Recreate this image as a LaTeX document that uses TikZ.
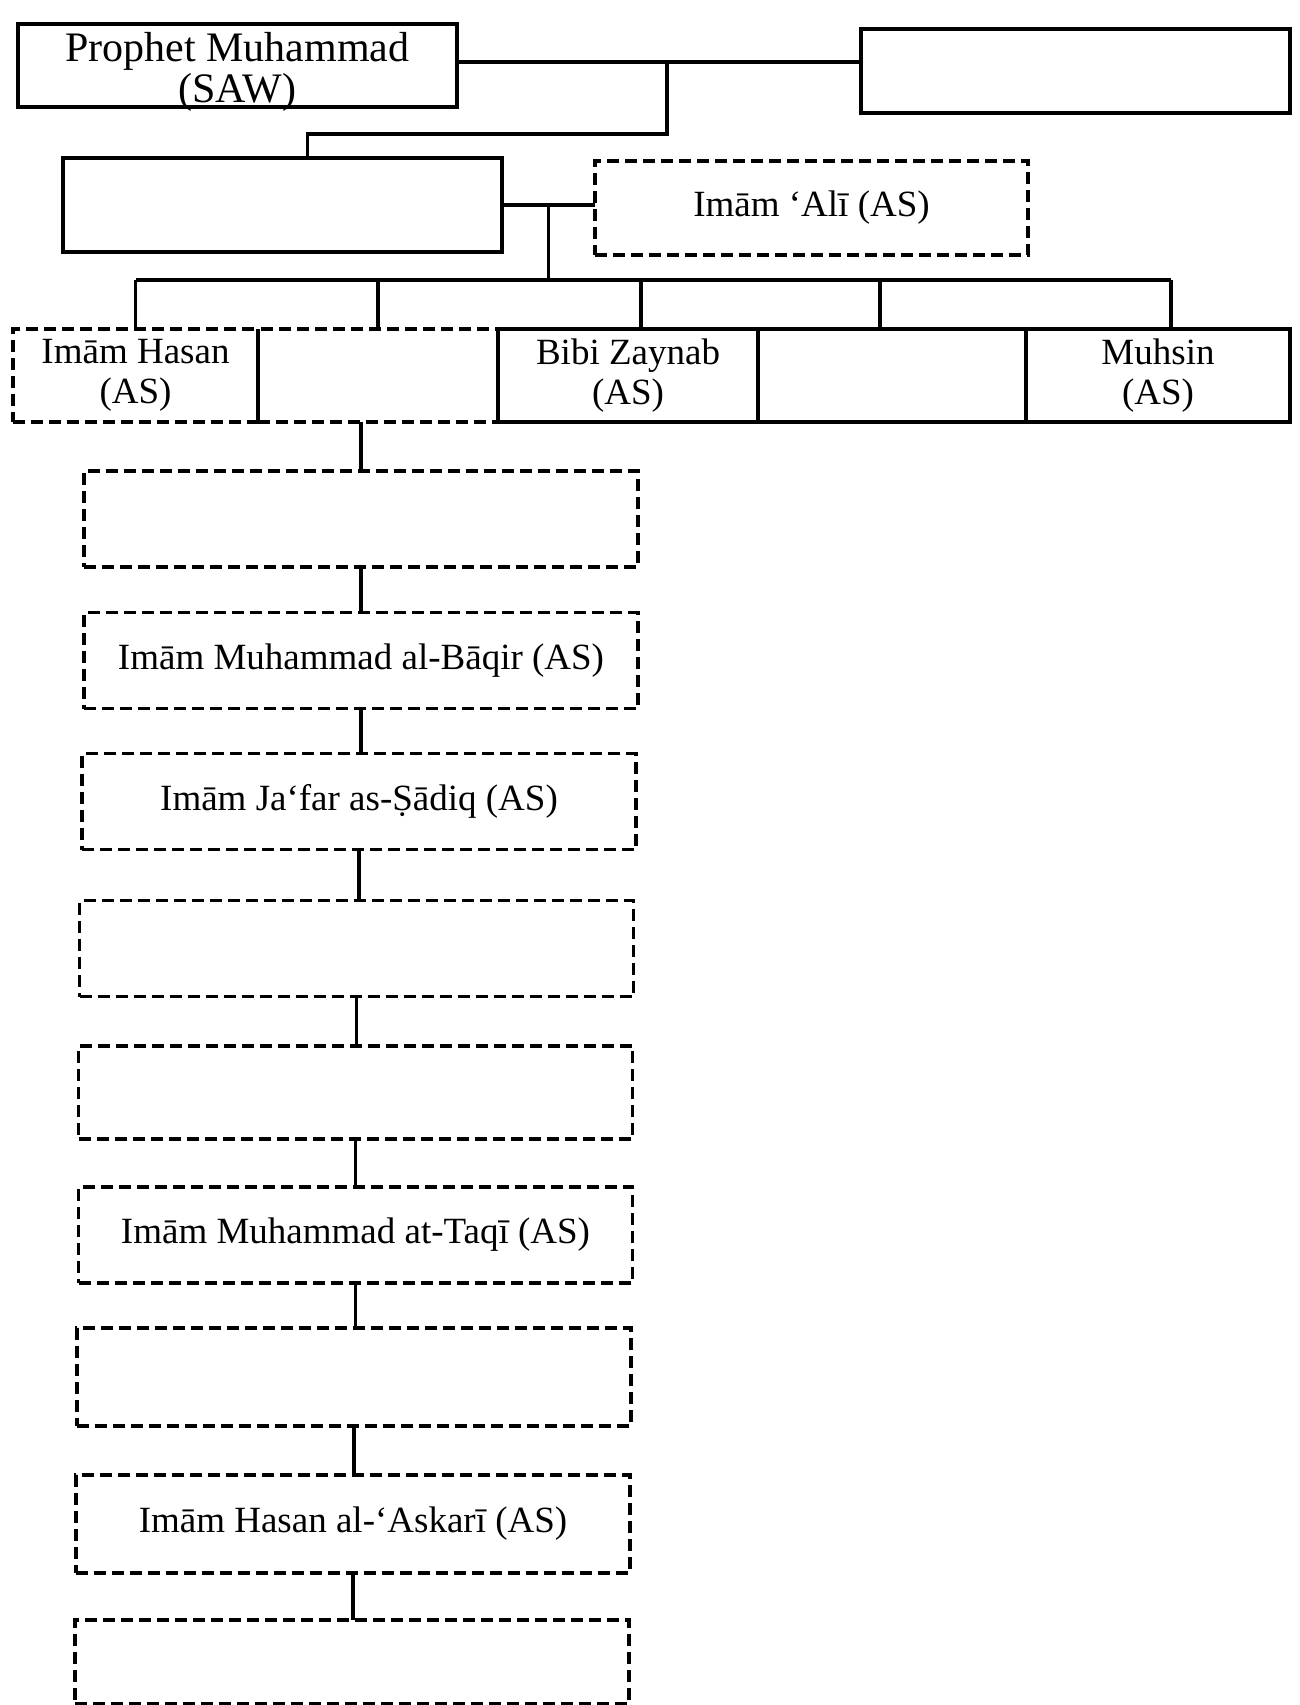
\documentclass[tikz,border=0pt]{standalone}
\usepackage{fontspec}
\setmainfont{Liberation Serif}
\usetikzlibrary{calc}
\begin{document}
\begin{tikzpicture}[x=1pt,y=-1pt,
  every node/.style={inner sep=0pt, outer sep=0pt, font=\fontsize{37}{40}\selectfont, align=center},
  solidbox/.style={draw, line width=3.1pt},
  dashbox/.style={draw, line width=3.1pt, dash pattern=on 12pt off 6pt},
  link/.style={line width=3.1pt},
  chain/.style={dashbox, minimum width=554pt, minimum height=96pt}]
\useasboundingbox (0,0) rectangle (1299,1705);
\fill[white] (0,0) rectangle (1299,1705);

% top generation
\node[solidbox, minimum width=439pt, minimum height=83pt] (prophet) at (237.5,65.5) {};
\node[font=\fontsize{42}{41}\selectfont, yshift=-6pt] (prophetlbl) at (prophet.center) {Prophet Muhammad\\(SAW)};
\node[solidbox, minimum width=429pt, minimum height=84pt] (wife) at (1075.5,71) {};
\node[solidbox, minimum width=439pt, minimum height=94pt] (fatima) at (282.5,205) {};
\node[dashbox, minimum width=433pt, minimum height=94pt] (ali) at (811.5,208) {Imām ‘Alī (AS)};

% children
\node[dashbox, minimum width=245pt, minimum height=93pt] (hasan) at (135.5,375.5) {Imām Hasan\\(AS)};
\node[dashbox, minimum width=240pt, minimum height=93pt] (husayn) at (378,375.5) {};
\node[solidbox, minimum width=260pt, minimum height=93pt] (zaynab) at (628,375.5) {Bibi Zaynab\\(AS)};
\node[solidbox, minimum width=268pt, minimum height=93pt] (kulthum) at (892,375.5) {};
\node[solidbox, minimum width=264pt, minimum height=93pt] (muhsin) at (1158,375.5) {Muhsin\\(AS)};
\draw[link] (hasan.north east) -- (hasan.south east);

% chain of imams
\node[chain] (c1) at (361,519) {};
\node[chain] (c2) at (361,660.5) {Imām Muhammad al-Bāqir (AS)};
\node[chain] (c3) at (359,801.5) {Imām Ja‘far as-Ṣādiq (AS)};
\node[chain] (c4) at (356.5,948.5) {};
\node[chain, minimum height=93pt] (c5) at (355.5,1092.5) {};
\node[chain] (c6) at (355.5,1235) {Imām Muhammad at-Taqī (AS)};
\node[chain, minimum height=98pt] (c7) at (354,1377) {};
\node[chain, minimum height=98pt] (c8) at (353,1524) {Imām Hasan al-‘Askarī (AS)};
\node[chain, minimum height=84pt] (c9) at (352,1662) {};

% connectors: top
\coordinate (m1) at (667,62);
\coordinate (m2) at (667,134);
\draw[link] (prophet.east |- m1) -- (wife.west |- m1);
\draw[link] (m1) -- (m2) -| ([xshift=25pt]fatima.north);
\draw[link] (fatima.east) -- (fatima.east -| ali.west);
\coordinate (m3) at ($(fatima.east)!0.5!(fatima.east -| ali.west)$);
\coordinate (b) at (m3 |- 0,280);
\draw[link] (m3) -- (b);
\draw[link] (hasan.north |- b) -- ([xshift=13pt]muhsin.north |- b);
\draw[link] (hasan.north |- b) -- (hasan.north);
\draw[link] (husayn.north |- b) -- (husayn.north);
\draw[link] ([xshift=13pt]zaynab.north |- b) -- ([xshift=13pt]zaynab.north);
\draw[link] ([xshift=-12pt]kulthum.north |- b) -- ([xshift=-12pt]kulthum.north);
\draw[link] ([xshift=13pt]muhsin.north |- b) -- ([xshift=13pt]muhsin.north);

% connectors: chain
\draw[link] (c1.north |- husayn.south) -- (c1.north);
\foreach \a/\b in {c1/c2,c2/c3,c3/c4,c4/c5,c5/c6,c6/c7,c7/c8,c8/c9}
  \draw[link] (\a.south) -- (\a.south |- \b.north);
\end{tikzpicture}
\end{document}
